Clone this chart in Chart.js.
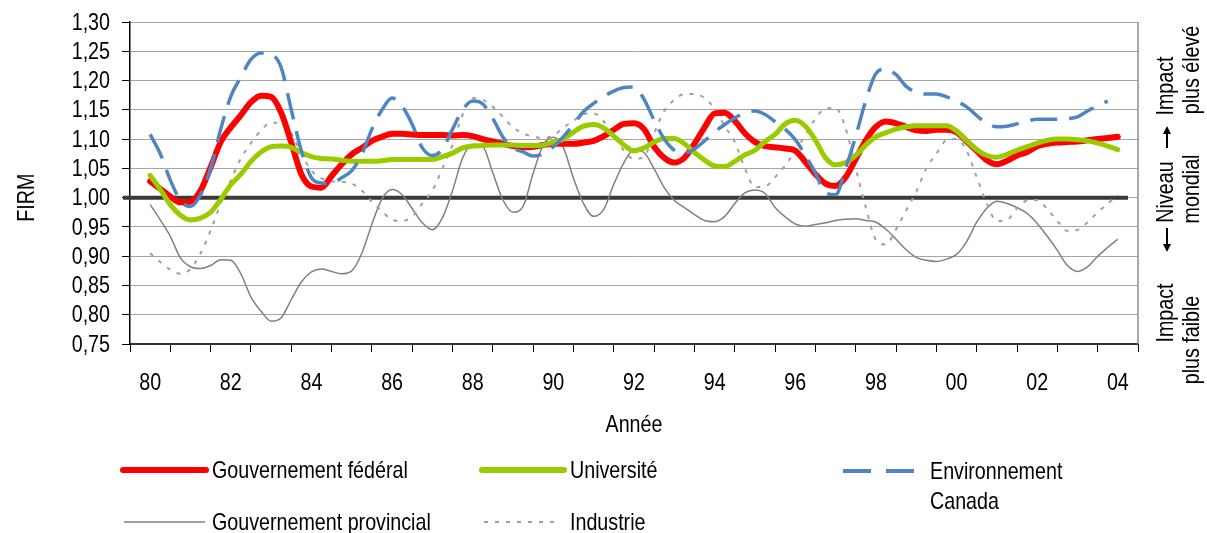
<!DOCTYPE html>
<html lang="fr">
<head>
<meta charset="utf-8">
<title>FIRM par secteur, 1980-2004</title>
<script src="https://cdn.jsdelivr.net/npm/chart.js@4.4.1/dist/chart.umd.min.js"></script>
<style>
  html, body { margin: 0; padding: 0; background: #ffffff; }
  canvas { display: block; }
</style>
</head>
<body>
<canvas id="firm" width="1207" height="533"></canvas>
<script>
// ---- Data: quarterly FIRM values, 1980.00 to 2004.00 (x in years since 1900) ----
const startYear = 80;
const stepYear = 0.25;

const federal = [ // Gouvernement fédéral
  1.028, 1.015, 1.002, 0.992,  // 80
  0.993, 1.012, 1.052, 1.095,  // 81
  1.120, 1.141, 1.163, 1.174,  // 82
  1.172, 1.145, 1.094, 1.040,  // 83
  1.019, 1.017, 1.037, 1.057,  // 84
  1.074, 1.085, 1.097, 1.104,  // 85
  1.109, 1.109, 1.108, 1.107,  // 86
  1.107, 1.107, 1.106, 1.107,  // 87
  1.105, 1.100, 1.096, 1.092,  // 88
  1.088, 1.086, 1.087, 1.090,  // 89
  1.092, 1.092, 1.092, 1.094,  // 90
  1.097, 1.105, 1.116, 1.126,  // 91
  1.127, 1.117, 1.087, 1.068,  // 92
  1.060, 1.068, 1.092, 1.120,  // 93
  1.144, 1.145, 1.131, 1.110,  // 94
  1.095, 1.088, 1.086, 1.084,  // 95
  1.080, 1.061, 1.040, 1.024,  // 96
  1.020, 1.035, 1.066, 1.098,  // 97
  1.121, 1.130, 1.127, 1.121,  // 98
  1.115, 1.114, 1.116, 1.116,  // 99
  1.112, 1.096, 1.080, 1.064,  // 00
  1.057, 1.063, 1.072, 1.078,  // 01
  1.088, 1.092, 1.094, 1.095,  // 02
  1.096, 1.098, 1.100, 1.102,  // 03
  1.104                        // 04
];

const universite = [ // Université
  1.038, 1.014, 0.988, 0.970,
  0.962, 0.965, 0.975, 0.997,
  1.022, 1.040, 1.062, 1.078,
  1.087, 1.088, 1.086, 1.077,
  1.070, 1.067, 1.066, 1.064,
  1.062, 1.062, 1.062, 1.063,
  1.065, 1.065, 1.065, 1.065,
  1.065, 1.070, 1.076, 1.085,
  1.088, 1.089, 1.090, 1.090,
  1.090, 1.089, 1.089, 1.090,
  1.095, 1.100, 1.112, 1.122,
  1.125, 1.119, 1.105, 1.090,
  1.080, 1.085, 1.095, 1.101,
  1.101, 1.092, 1.077, 1.064,
  1.054, 1.053, 1.062, 1.073,
  1.081, 1.096, 1.108, 1.126,
  1.132, 1.122, 1.098, 1.068,
  1.056, 1.060, 1.072, 1.090,
  1.104, 1.111, 1.117, 1.121,
  1.123, 1.123, 1.123, 1.123,
  1.114, 1.097, 1.082, 1.072,
  1.069, 1.074, 1.081, 1.087,
  1.093, 1.098, 1.100, 1.100,
  1.099, 1.097, 1.093, 1.088,
  1.082
];

const environnement = [ // Environnement Canada
  1.108, 1.075, 1.030, 0.995,
  0.985, 1.005, 1.050, 1.117,
  1.173, 1.206, 1.236, 1.247,
  1.245, 1.222, 1.150, 1.080,
  1.034, 1.025, 1.024, 1.034,
  1.046, 1.074, 1.117, 1.150,
  1.170, 1.156, 1.125, 1.085,
  1.072, 1.083, 1.117, 1.150,
  1.165, 1.160, 1.135, 1.103,
  1.085, 1.078, 1.071, 1.075,
  1.087, 1.104, 1.125, 1.147,
  1.161, 1.173, 1.182, 1.188,
  1.189, 1.168, 1.132, 1.100,
  1.081, 1.076, 1.083, 1.097,
  1.112, 1.125, 1.136, 1.145,
  1.148, 1.142, 1.130, 1.117,
  1.099, 1.072, 1.042, 1.008,
  1.005, 1.050, 1.105, 1.166,
  1.212, 1.220, 1.210, 1.190,
  1.180, 1.177, 1.177, 1.172,
  1.165, 1.155, 1.140, 1.127,
  1.121, 1.122, 1.126, 1.131,
  1.134, 1.134, 1.134, 1.135,
  1.138, 1.148, 1.157, 1.165,
  null
];

const provincial = [ // Gouvernement provincial
  0.988, 0.962, 0.934, 0.897,
  0.882, 0.879, 0.884, 0.894,
  0.893, 0.870, 0.830, 0.806,
  0.789, 0.795, 0.826, 0.856,
  0.873, 0.878, 0.874, 0.870,
  0.875, 0.905, 0.955, 0.998,
  1.014, 1.005, 0.981, 0.957,
  0.945, 0.966, 1.012, 1.068,
  1.091, 1.087, 1.042, 0.996,
  0.975, 0.985, 1.042, 1.090,
  1.103, 1.085, 1.033, 0.990,
  0.968, 0.980, 1.023, 1.060,
  1.082, 1.077, 1.049, 1.017,
  0.995, 0.983, 0.971, 0.961,
  0.959, 0.968, 0.990, 1.008,
  1.013, 1.007, 0.983, 0.967,
  0.955, 0.951, 0.954, 0.957,
  0.961, 0.963, 0.964, 0.961,
  0.958, 0.946, 0.929, 0.911,
  0.898, 0.893, 0.891, 0.895,
  0.903, 0.925, 0.958, 0.982,
  0.994, 0.990, 0.983, 0.973,
  0.956, 0.934, 0.910, 0.884,
  0.874, 0.882, 0.900, 0.915,
  0.929
];

const industrie = [ // Industrie
  0.905, 0.890, 0.877, 0.870,
  0.878, 0.905, 0.944, 0.990,
  1.030, 1.067, 1.093, 1.115,
  1.128, 1.128, 1.110, 1.075,
  1.046, 1.033, 1.028, 1.027,
  1.024, 1.012, 0.993, 0.977,
  0.962, 0.960, 0.968, 0.990,
  1.012, 1.050, 1.090, 1.142,
  1.170, 1.167, 1.155, 1.138,
  1.120, 1.110, 1.104, 1.102,
  1.106, 1.120, 1.131, 1.143,
  1.144, 1.130, 1.107, 1.080,
  1.066, 1.070, 1.110, 1.148,
  1.167, 1.177, 1.177, 1.170,
  1.152, 1.122, 1.095, 1.050,
  1.018, 1.019, 1.035, 1.055,
  1.080, 1.107, 1.135, 1.152,
  1.153, 1.118, 1.050, 0.983,
  0.928, 0.920, 0.946, 0.978,
  1.010, 1.050, 1.075, 1.098,
  1.100, 1.080, 1.035, 0.990,
  0.960, 0.962, 0.982, 0.995,
  0.996, 0.980, 0.960, 0.943,
  0.945, 0.958, 0.975, 0.990,
  1.005
];

// Axis ticks
const yearTickValues = [80, 82, 84, 86, 88, 90, 92, 94, 96, 98, 100, 102, 104];
const yearTickLabels = ['80', '82', '84', '86', '88', '90', '92', '94', '96', '98', '00', '02', '04'];
const yTickValues = [0.75, 0.80, 0.85, 0.90, 0.95, 1.00, 1.05, 1.10, 1.15, 1.20, 1.25, 1.30];
const worldLevel = 1.00;

// ---- Styling ----
// Text is set in Liberation Sans and squeezed horizontally to a narrow face.
const FONT = "'Liberation Sans', Arial, sans-serif";
const TEXT_SIZE = 24;
const SQUEEZE = 0.82;
const COLORS = {
  federal: '#ff0000',
  universite: '#99cc00',
  environnement: '#4f86c2',
  provincial: '#808080',
  industrie: '#a0a0a0'
};

function toPoints(values) {
  return values.map((v, i) => ({ x: startYear + i * stepYear, y: v }));
}

// Tick marks sit between years; labels sit on even years
const halfYearTicks = [];
for (let t = 79.5; t <= 104.5 + 1e-9; t += 0.5) halfYearTicks.push(Math.round(t * 2) / 2);

function narrowText(ctx, text, x, y, align, rotated) {
  ctx.save();
  ctx.translate(x, y);
  if (rotated) ctx.rotate(-Math.PI / 2);
  ctx.scale(SQUEEZE, 1);
  ctx.textAlign = align;
  ctx.textBaseline = 'middle';
  ctx.fillText(text, 0, 0);
  ctx.restore();
}

// vertical arrow from (x, yFrom) pointing to (x, yTo)
function drawArrow(ctx, x, yFrom, yTo) {
  const dir = Math.sign(yTo - yFrom);
  ctx.save();
  ctx.strokeStyle = '#000000';
  ctx.fillStyle = '#000000';
  ctx.lineWidth = 2;
  ctx.beginPath();
  ctx.moveTo(x, yFrom);
  ctx.lineTo(x, yTo - dir * 6);
  ctx.stroke();
  ctx.beginPath();
  ctx.moveTo(x, yTo);
  ctx.lineTo(x - 4, yTo - dir * 8);
  ctx.lineTo(x + 4, yTo - dir * 8);
  ctx.closePath();
  ctx.fill();
  ctx.restore();
}

const frameAndReference = {
  id: 'frameAndReference',
  beforeDatasetsDraw(chart) {
    const { ctx, chartArea, scales } = chart;
    const y = scales.y.getPixelForValue(worldLevel);
    ctx.save();
    // right edge of the plot frame
    ctx.strokeStyle = '#8c8c8c';
    ctx.lineWidth = 1.5;
    ctx.beginPath();
    ctx.moveTo(chartArea.right, chartArea.top);
    ctx.lineTo(chartArea.right, chartArea.bottom);
    ctx.stroke();
    // world level line
    ctx.strokeStyle = '#3a3a3a';
    ctx.lineWidth = 4;
    ctx.beginPath();
    ctx.moveTo(chartArea.left - 7, y);
    ctx.lineTo(chartArea.right - 10, y);
    ctx.stroke();
    ctx.restore();
  }
};

const legendEntries = [
  { label: ['Gouvernement fédéral'], color: COLORS.federal, width: 6, dash: [], cap: 'round', x0: 123, x1: 206, y: 470, tx: 212 },
  { label: ['Université'], color: COLORS.universite, width: 6, dash: [], cap: 'round', x0: 482, x1: 564, y: 470, tx: 570 },
  { label: ['Environnement', 'Canada'], color: COLORS.environnement, width: 4, dash: [28, 15], cap: 'butt', x0: 843, x1: 914, y: 471, tx: 930 },
  { label: ['Gouvernement provincial'], color: COLORS.provincial, width: 1.5, dash: [], cap: 'butt', x0: 124, x1: 205, y: 522, tx: 212 },
  { label: ['Industrie'], color: COLORS.industrie, width: 2, dash: [4, 7], cap: 'butt', x0: 484, x1: 558, y: 522, tx: 570 }
];

const sideNotes = [
  { text: 'Impact', x: 1166, y: 86 },
  { text: 'plus élevé', x: 1192, y: 70 },
  { text: 'Niveau', x: 1166, y: 192 },
  { text: 'mondial', x: 1192, y: 189 },
  { text: 'Impact', x: 1166, y: 313 },
  { text: 'plus faible', x: 1192, y: 340 }
];
const sideArrows = [
  { x: 1167, from: 148, to: 126 }, // towards higher impact
  { x: 1167, from: 228, to: 252 }  // towards lower impact
];

const textLayer = {
  id: 'textLayer',
  afterDraw(chart) {
    const { ctx, scales, chartArea } = chart;
    ctx.save();
    ctx.font = TEXT_SIZE + 'px ' + FONT;
    ctx.fillStyle = '#000000';

    // y tick labels
    yTickValues.forEach(v => {
      const label = v.toFixed(2).replace('.', ',');
      narrowText(ctx, label, chartArea.left - 20, scales.y.getPixelForValue(v) + 1, 'right', false);
    });
    // x tick labels
    yearTickValues.forEach((v, k) => {
      narrowText(ctx, yearTickLabels[k], scales.x.getPixelForValue(v), chartArea.bottom + 39, 'center', false);
    });
    // axis titles
    narrowText(ctx, 'Année', (chartArea.left + chartArea.right) / 2, chartArea.bottom + 81, 'center', false);
    narrowText(ctx, 'FIRM', 27, scales.y.getPixelForValue(worldLevel), 'center', true);

    // legend
    legendEntries.forEach(e => {
      ctx.save();
      ctx.strokeStyle = e.color;
      ctx.lineWidth = e.width;
      ctx.lineCap = e.cap;
      ctx.setLineDash(e.dash);
      ctx.beginPath();
      ctx.moveTo(e.x0, e.y);
      ctx.lineTo(e.x1, e.y);
      ctx.stroke();
      ctx.restore();
      e.label.forEach((line, k) => narrowText(ctx, line, e.tx, e.y + 1 + k * 30, 'left', false));
    });

    // reading guide on the right
    sideNotes.forEach(n => narrowText(ctx, n.text, n.x, n.y, 'center', true));
    sideArrows.forEach(a => drawArrow(ctx, a.x, a.from, a.to));
    ctx.restore();
  }
};

new Chart(document.getElementById('firm'), {
  type: 'line',
  data: {
    datasets: [
      {
        label: 'Environnement Canada',
        data: toPoints(environnement),
        borderColor: COLORS.environnement,
        borderWidth: 3.5,
        borderDash: [27, 12],
        borderCapStyle: 'butt',
        spanGaps: false
      },
      {
        label: 'Université',
        data: toPoints(universite),
        borderColor: COLORS.universite,
        borderWidth: 5,
        borderCapStyle: 'round'
      },
      {
        label: 'Gouvernement fédéral',
        data: toPoints(federal),
        borderColor: COLORS.federal,
        borderWidth: 6,
        borderCapStyle: 'round'
      },
      {
        label: 'Industrie',
        data: toPoints(industrie),
        borderColor: COLORS.industrie,
        borderWidth: 2,
        borderDash: [4, 7]
      },
      {
        label: 'Gouvernement provincial',
        data: toPoints(provincial),
        borderColor: COLORS.provincial,
        borderWidth: 1.5
      }
    ]
  },
  options: {
    responsive: false,
    animation: false,
    devicePixelRatio: 1,
    elements: {
      point: { radius: 0, hoverRadius: 0 },
      line: { cubicInterpolationMode: 'monotone', fill: false, borderJoinStyle: 'round' }
    },
    layout: { padding: { left: 0, right: 69, top: 22, bottom: 94 } },
    plugins: {
      legend: { display: false },
      tooltip: { enabled: false },
      title: { display: false }
    },
    scales: {
      x: {
        type: 'linear',
        min: 79.5,
        max: 104.5,
        afterBuildTicks(scale) {
          scale.ticks = halfYearTicks.map(v => ({ value: v }));
        },
        afterFit(scale) { scale.height = 95; },
        ticks: { display: false, autoSkip: false },
        grid: {
          drawOnChartArea: false,
          drawTicks: true,
          tickLength: 8,
          tickWidth: 1,
          tickColor: ctx => (ctx.tick && Number.isInteger(ctx.tick.value)) ? 'rgba(0,0,0,0)' : '#000000'
        },
        border: { display: true, color: '#333333', width: 2 },
        title: { display: false }
      },
      y: {
        type: 'linear',
        min: 0.75,
        max: 1.30,
        afterBuildTicks(scale) {
          scale.ticks = yTickValues.map(v => ({ value: v }));
        },
        afterFit(scale) { scale.width = 130; },
        ticks: { display: false, autoSkip: false },
        grid: {
          color: '#a6a6a6',
          lineWidth: 1,
          tickLength: 8,
          tickColor: '#000000'
        },
        border: { display: true, color: '#000000', width: 1.5 },
        title: { display: false }
      }
    }
  },
  plugins: [frameAndReference, textLayer]
});
</script>
</body>
</html>
